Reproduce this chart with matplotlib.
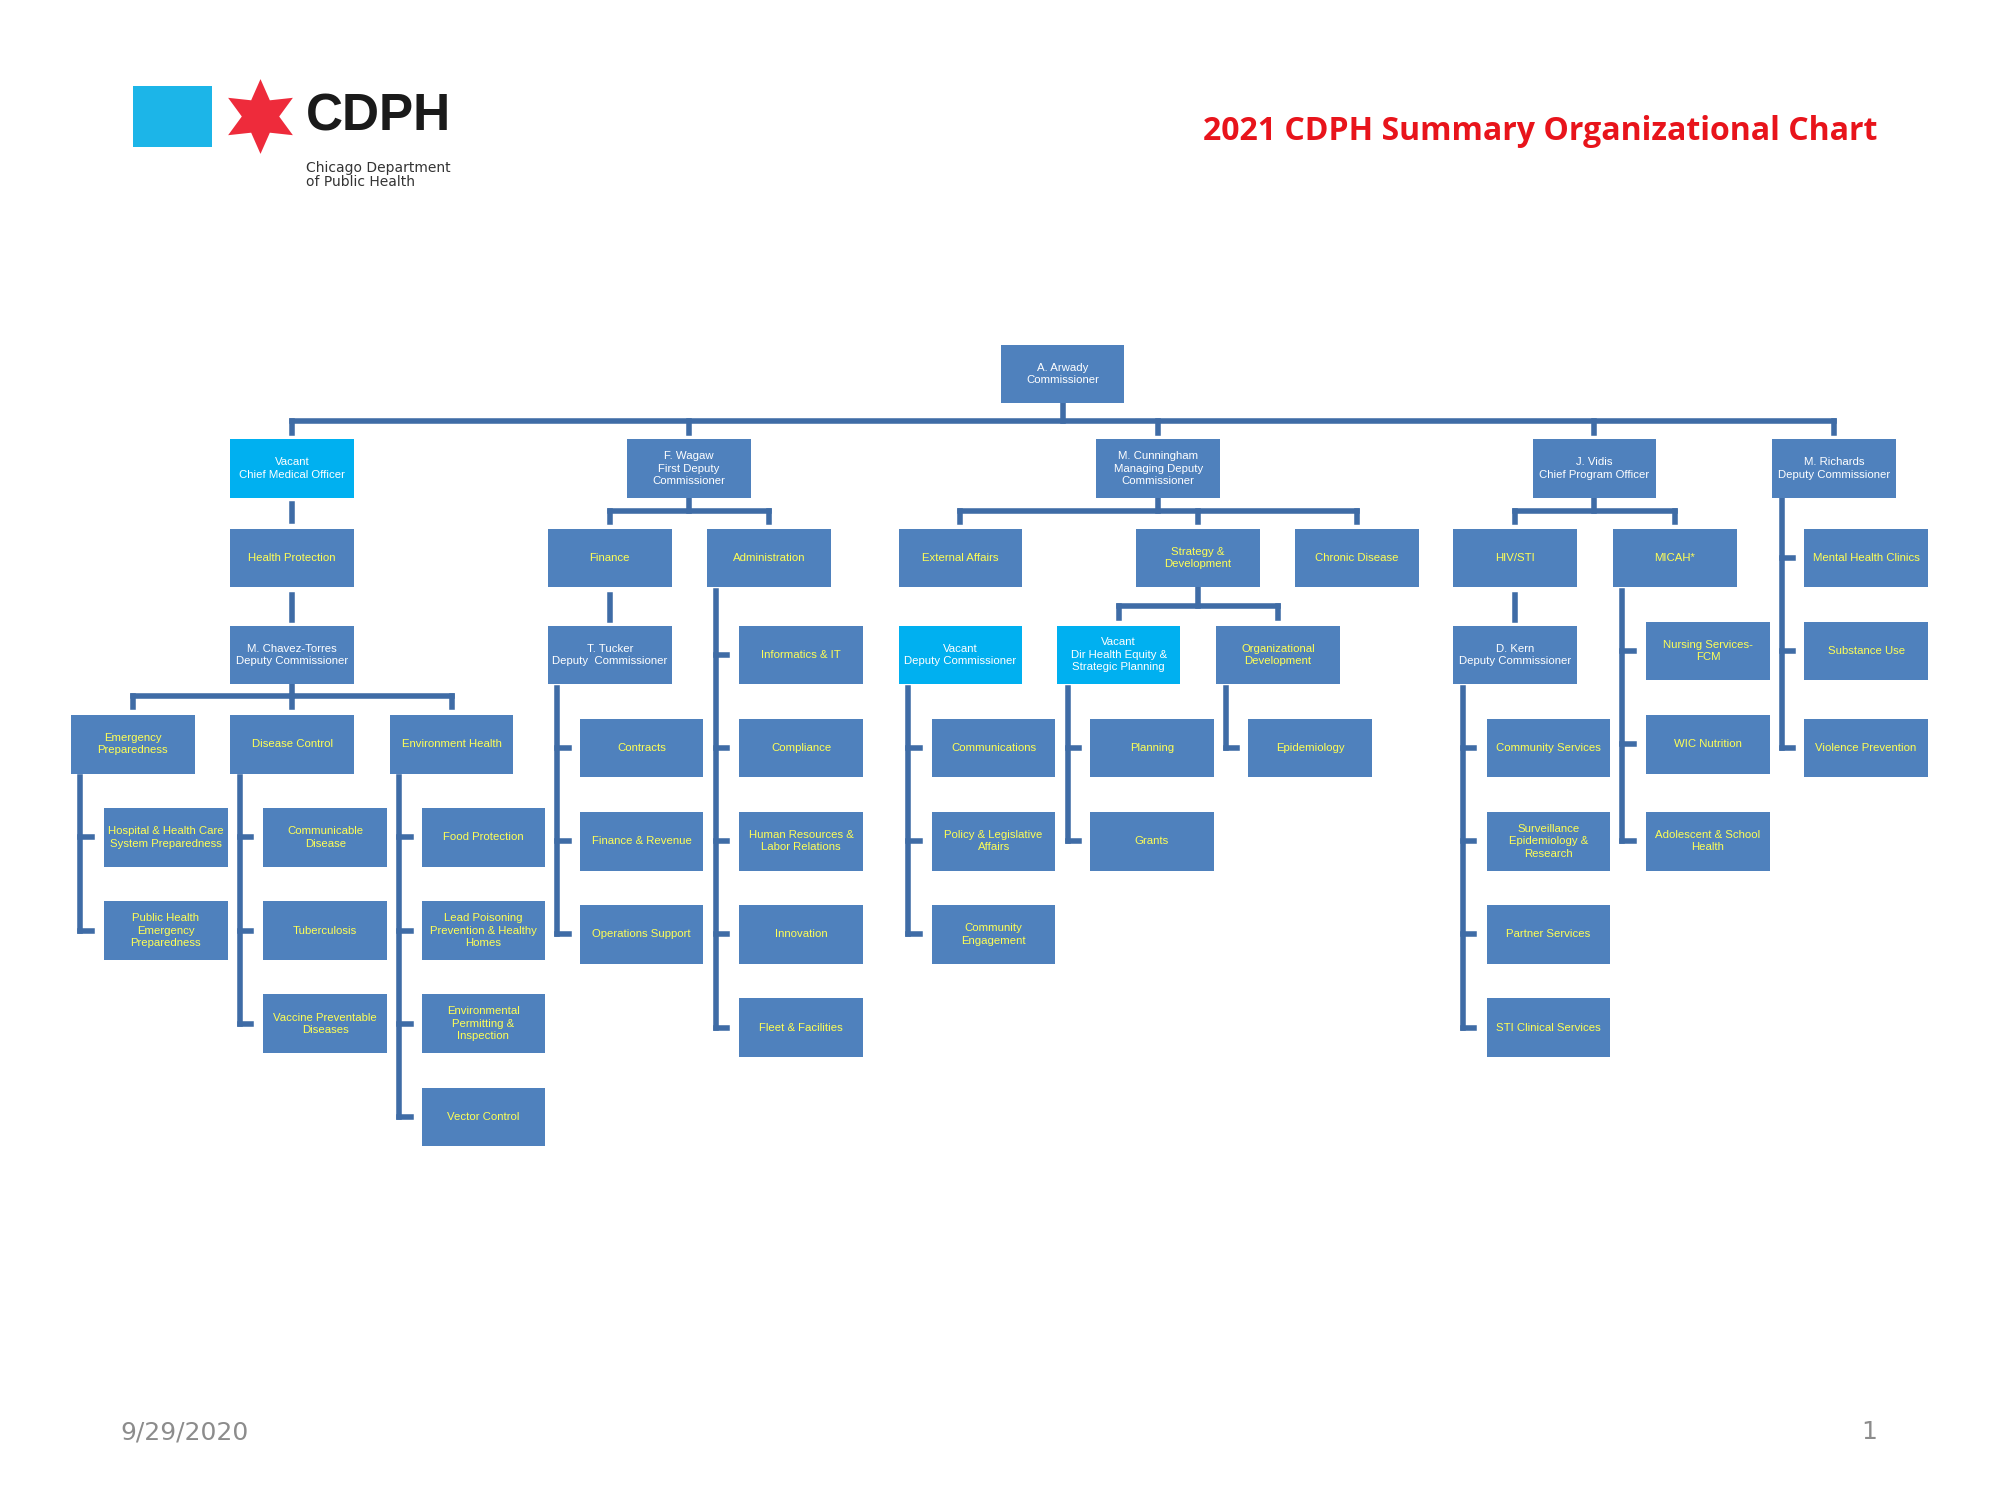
import matplotlib.pyplot as plt
from matplotlib.patches import Rectangle

W, H = 1568, 1175
BOX_W, BOX_H = 97, 46
BLUE = '#4F81BD'
LINE = '#3F6CA6'
CYAN = '#00B0F0'
YEL = '#FFFF55'

# (label, x, y, fill, text colour)
nodes = [
    ("A. Arwady\nCommissioner", 833, 293, 'b', 'w'),
    ("Vacant\nChief Medical Officer", 229, 367, 'c', 'w'),
    ("F. Wagaw\nFirst Deputy\nCommissioner", 540, 367, 'b', 'w'),
    ("M. Cunningham\nManaging Deputy\nCommissioner", 908, 367, 'b', 'w'),
    ("J. Vidis\nChief Program Officer", 1250, 367, 'b', 'w'),
    ("M. Richards\nDeputy Commissioner", 1438, 367, 'b', 'w'),
    ("Health Protection", 229, 437, 'b', 'y'),
    ("Finance", 478, 437, 'b', 'y'),
    ("Administration", 603, 437, 'b', 'y'),
    ("External Affairs", 753, 437, 'b', 'y'),
    ("Strategy &\nDevelopment", 939, 437, 'b', 'y'),
    ("Chronic Disease", 1064, 437, 'b', 'y'),
    ("HIV/STI", 1188, 437, 'b', 'y'),
    ("MICAH*", 1313, 437, 'b', 'y'),
    ("Mental Health Clinics", 1463, 437, 'b', 'y'),
    ("Substance Use", 1463, 510, 'b', 'y'),
    ("Violence Prevention", 1463, 586, 'b', 'y'),
    ("M. Chavez-Torres\nDeputy Commissioner", 229, 513, 'b', 'w'),
    ("T. Tucker\nDeputy  Commissioner", 478, 513, 'b', 'w'),
    ("Vacant\nDeputy Commissioner", 753, 513, 'c', 'w'),
    ("Vacant\nDir Health Equity &\nStrategic Planning", 877, 513, 'c', 'w'),
    ("Organizational\nDevelopment", 1002, 513, 'b', 'y'),
    ("D. Kern\nDeputy Commissioner", 1188, 513, 'b', 'w'),
    ("Informatics & IT", 628, 513, 'b', 'y'),
    ("Compliance", 628, 586, 'b', 'y'),
    ("Human Resources &\nLabor Relations", 628, 659, 'b', 'y'),
    ("Innovation", 628, 732, 'b', 'y'),
    ("Fleet & Facilities", 628, 805, 'b', 'y'),
    ("Nursing Services-\nFCM", 1339, 510, 'b', 'y'),
    ("WIC Nutrition", 1339, 583, 'b', 'y'),
    ("Adolescent & School\nHealth", 1339, 659, 'b', 'y'),
    ("Emergency\nPreparedness", 104, 583, 'b', 'y'),
    ("Disease Control", 229, 583, 'b', 'y'),
    ("Environment Health", 354, 583, 'b', 'y'),
    ("Hospital & Health Care\nSystem Preparedness", 130, 656, 'b', 'y'),
    ("Public Health\nEmergency\nPreparedness", 130, 729, 'b', 'y'),
    ("Communicable\nDisease", 255, 656, 'b', 'y'),
    ("Tuberculosis", 255, 729, 'b', 'y'),
    ("Vaccine Preventable\nDiseases", 255, 802, 'b', 'y'),
    ("Food Protection", 379, 656, 'b', 'y'),
    ("Lead Poisoning\nPrevention & Healthy\nHomes", 379, 729, 'b', 'y'),
    ("Environmental\nPermitting &\nInspection", 379, 802, 'b', 'y'),
    ("Vector Control", 379, 875, 'b', 'y'),
    ("Contracts", 503, 586, 'b', 'y'),
    ("Finance & Revenue", 503, 659, 'b', 'y'),
    ("Operations Support", 503, 732, 'b', 'y'),
    ("Communications", 779, 586, 'b', 'y'),
    ("Policy & Legislative\nAffairs", 779, 659, 'b', 'y'),
    ("Community\nEngagement", 779, 732, 'b', 'y'),
    ("Planning", 903, 586, 'b', 'y'),
    ("Grants", 903, 659, 'b', 'y'),
    ("Epidemiology", 1027, 586, 'b', 'y'),
    ("Community Services", 1214, 586, 'b', 'y'),
    ("Surveillance\nEpidemiology &\nResearch", 1214, 659, 'b', 'y'),
    ("Partner Services", 1214, 732, 'b', 'y'),
    ("STI Clinical Services", 1214, 805, 'b', 'y'),
]

# horizontal bars: (y, x_left, x_right, parent x, parent bottom y, [drop xs])
bars = [
    (330, 229, 1438, 833, 316, [229, 540, 908, 1250, 1438]),
    (400, 478, 603, 540, 390, [478, 603]),
    (400, 753, 1064, 908, 390, [753, 939, 1064]),
    (400, 1188, 1313, 1250, 390, [1188, 1313]),
    (475, 877, 1002, 939, 460, [877, 1002]),
    (545, 104, 354, 229, 536, [104, 229, 354]),
]
# vertical rails: (x, y_top, [child ys])
rails = [
    (1397, 392, [437, 510, 586]),
    (561, 463, [513, 586, 659, 732, 805]),
    (1272, 463, [510, 583, 659]),
    (63, 609, [656, 729]),
    (188, 609, [656, 729, 802]),
    (313, 609, [656, 729, 802, 875]),
    (437, 539, [586, 659, 732]),
    (712, 539, [586, 659, 732]),
    (837, 539, [586, 659]),
    (961, 539, [586]),
    (1147, 539, [586, 659, 732, 805]),
]
# straight vertical stubs: (x, y0, y1)
stubs = [(229, 395, 408), (229, 466, 486), (478, 466, 486), (1188, 466, 486)]

fig = plt.figure(figsize=(20, 15), dpi=100)
ax = fig.add_axes([0, 0, 1, 1])
ax.set_xlim(0, W)
ax.set_ylim(H, 0)
ax.axis('off')

lw = 4
for y, x0, x1, px, py, drops in bars:
    ax.plot([x0, x1], [y, y], color=LINE, lw=lw, solid_capstyle='projecting')
    ax.plot([px, px], [py, y], color=LINE, lw=lw)
    for x in drops:
        ax.plot([x, x], [y, y + 9], color=LINE, lw=lw)
for x, y0, ys in rails:
    ax.plot([x, x], [y0, ys[-1]], color=LINE, lw=lw)
    for y in ys:
        ax.plot([x, x + 9], [y, y], color=LINE, lw=lw)
for x, y0, y1 in stubs:
    ax.plot([x, x], [y0, y1], color=LINE, lw=lw)

for label, x, y, fill, tc in nodes:
    fc = CYAN if fill == 'c' else BLUE
    ax.add_patch(Rectangle((x - BOX_W / 2, y - BOX_H / 2), BOX_W, BOX_H, facecolor=fc,
                           edgecolor='none', zorder=3))
    ax.text(x, y, label, ha='center', va='center', fontsize=8.2, linespacing=1.3,
            color='white' if tc == 'w' else YEL, family='Liberation Sans', zorder=4)

# logo
ax.add_patch(Rectangle((104, 67), 62, 48, facecolor='#1CB5E8', edgecolor='none'))
ax.scatter([204], [91], marker=(6, 1, 0), s=2900, color='#EE2B3B', linewidths=0)
ax.text(240, 92, "CDPH", fontsize=37, fontweight='bold', color='#1a1a1a', va='center',
        ha='left', family='Liberation Sans')
ax.text(240, 137, "Chicago Department\nof Public Health", fontsize=10, color='#333333',
        va='center', ha='left', linespacing=1.05, family='DejaVu Sans')

ax.text(1472, 103, "2021 CDPH Summary Organizational Chart", fontsize=23, fontweight='bold',
        color='#E8141B', ha='right', va='center', family='Open Sans')
ax.text(94, 1122, "9/29/2020", fontsize=18, color='#8C8C8C', ha='left', va='center')
ax.text(1472, 1122, "1", fontsize=18, color='#8C8C8C', ha='right', va='center')

fig.savefig('out.png')
